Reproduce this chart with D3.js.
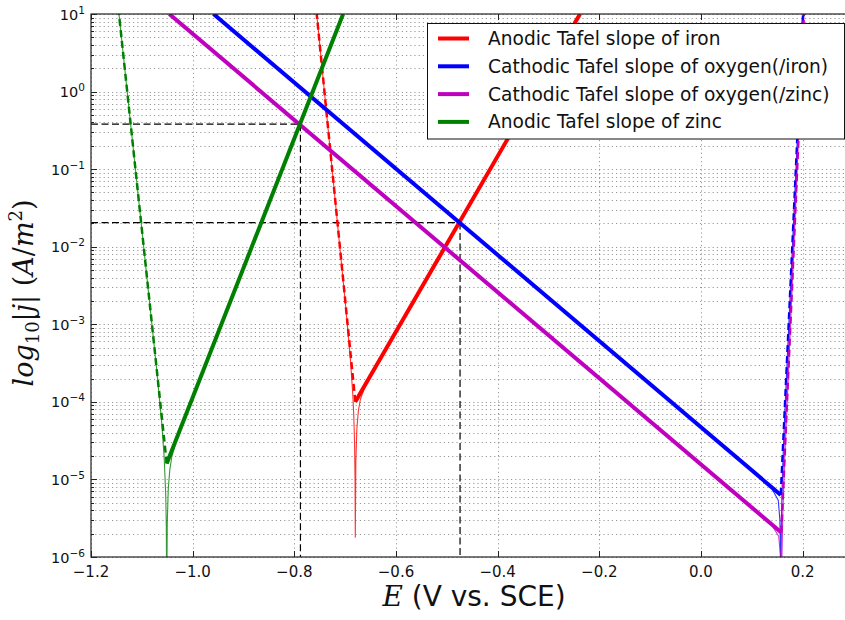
<!DOCTYPE html>
<html>
<head>
<meta charset="utf-8">
<script src="https://cdn.jsdelivr.net/npm/d3@7"></script>
<style>
  html, body { margin: 0; padding: 0; background: #fff; }
  svg { display: block; }
</style>
</head>
<body>
<svg id="chart" width="845" height="620"></svg>
<script>
// Evans diagram: Tafel lines for iron and zinc dissolution against oxygen reduction

// ---- axes ----
const E_DOMAIN = [-1.2, 0.3];
const J_DOMAIN = [1e-6, 10];
const E_TICKS = [-1.2, -1.0, -0.8, -0.6, -0.4, -0.2, 0.0, 0.2];
const J_DECADES = [-6, -5, -4, -3, -2, -1, 0, 1];

// ---- legend ----
const SERIES_LABELS = [
  "Anodic Tafel slope of iron",
  "Cathodic Tafel slope of oxygen(/iron)",
  "Cathodic Tafel slope of oxygen(/zinc)",
  "Anodic Tafel slope of zinc"
];
const SERIES_COLORS = ["#ff0000", "#0000ff", "#bf00bf", "#008000"];

// ---- iron: [E (V), |j| (A/m^2)] ----
const ironTafel = [[-0.680, 1.0e-4], [-0.238, 10]];
const ironBranch = [[-0.680, 1.0e-4], [-0.756, 10]];
const ironNet = [
  [-0.756, 10], [-0.700, 2.0e-3], [-0.690, 3.8e-4], [-0.685, 1.25e-4],
  [-0.683, 6.5e-5], [-0.6815, 2.9e-5], [-0.6805, 9.0e-6], [-0.6801, 1.8e-6],
  [-0.679, 1.7e-5], [-0.677, 4.5e-5], [-0.674, 7.7e-5], [-0.670, 1.08e-4],
  [-0.660, 1.64e-4], [-0.238, 10]
];

// ---- oxygen reduction on iron ----
const o2IronTafel = [[0.157, 6.3e-6], [-0.959, 10]];
const o2IronBranch = [[0.157, 6.3e-6], [0.2008, 10]];
const o2IronNet = [
  [-0.959, 10], [0.137, 8.1e-6], [0.152, 5.4e-6], [0.155, 3.1e-6],
  [0.1562, 1.5e-6], [0.1567, 6.0e-7], [0.1573, 6.6e-7], [0.158, 2.5e-6],
  [0.160, 1.04e-5], [0.163, 3.7e-5], [0.167, 1.5e-4], [0.2008, 10]
];

// ---- oxygen reduction on zinc ----
const o2ZincTafel = [[0.158, 2.07e-6], [-1.046, 10]];
const o2ZincBranch = [[0.158, 2.07e-6], [0.2025, 10]];
const o2ZincNet = [
  [-1.046, 10], [0.138, 2.67e-6], [0.153, 1.84e-6], [0.156, 1.09e-6],
  [0.157, 6.3e-7], [0.159, 8.8e-7], [0.161, 3.85e-6], [0.164, 1.45e-5],
  [0.2025, 10]
];

// ---- zinc ----
const zincTafel = [[-1.051, 1.6e-5], [-0.704, 10]];
const zincBranch = [[-1.051, 1.6e-5], [-1.145, 10]];
const zincNet = [
  [-1.145, 10], [-1.071, 2.7e-4], [-1.061, 5.5e-5], [-1.056, 1.9e-5],
  [-1.053, 6.4e-6], [-1.0518, 2.4e-6], [-1.0512, 4.0e-7], [-1.0508, 4.0e-7],
  [-1.050, 2.7e-6], [-1.048, 7.5e-6], [-1.045, 1.33e-5], [-1.041, 1.96e-5],
  [-1.031, 3.35e-5], [-0.704, 10]
];

// ---- corrosion points (E_corr, j_corr) ----
const corrosionPoints = [[-0.474, 0.0205], [-0.788, 0.38]];

const groups = [
  { net: ironNet, branch: ironBranch, tafel: ironTafel },
  { net: o2IronNet, branch: o2IronBranch, tafel: o2IronTafel },
  { net: o2ZincNet, branch: o2ZincBranch, tafel: o2ZincTafel },
  { net: zincNet, branch: zincBranch, tafel: zincTafel }
];

// ---- layout ----
const plot = { left: 91, top: 14, right: 853.5, bottom: 557 };
const svg = d3.select("#chart");
svg.append("rect").attr("width", 845).attr("height", 620).attr("fill", "#fff");

const x = d3.scaleLinear().domain(E_DOMAIN).range([plot.left, plot.right]);
const y = d3.scaleLog().domain(J_DOMAIN).range([plot.bottom, plot.top]);

svg.append("defs").append("clipPath").attr("id", "plotClip")
  .append("rect")
  .attr("x", plot.left).attr("y", plot.top)
  .attr("width", plot.right - plot.left).attr("height", plot.bottom - plot.top);

// minor / major values on the log axis
const majorJ = J_DECADES.map(d => Math.pow(10, d));
const minorJ = [];
J_DECADES.slice(0, -1).forEach(d => {
  for (let m = 2; m <= 9; m++) minorJ.push(m * Math.pow(10, d));
});

// ---- grid ----
const grid = svg.append("g").attr("stroke", "#000").attr("stroke-opacity", 0.5)
  .attr("stroke-width", 0.8).attr("stroke-dasharray", "1.2,3").attr("fill", "none");
grid.selectAll("line.h").data(majorJ.concat(minorJ)).enter().append("line")
  .attr("x1", plot.left).attr("x2", plot.right)
  .attr("y1", d => Math.round(y(d)) + 0.5).attr("y2", d => Math.round(y(d)) + 0.5);
grid.selectAll("line.v").data(E_TICKS).enter().append("line")
  .attr("y1", plot.top).attr("y2", plot.bottom)
  .attr("x1", d => Math.round(x(d)) + 0.5).attr("x2", d => Math.round(x(d)) + 0.5);

// ---- curves ----
const line = d3.line().x(d => x(d[0])).y(d => y(d[1]));
const curves = svg.append("g").attr("clip-path", "url(#plotClip)").attr("fill", "none");

// guide lines from each corrosion point to the axes
const guides = curves.append("g").attr("stroke", "#000").attr("stroke-width", 1.2)
  .attr("stroke-dasharray", "7,3.5");
corrosionPoints.forEach(p => {
  guides.append("path").attr("d", line([[E_DOMAIN[0], p[1]], p]));
  guides.append("path").attr("d", line([p, [p[0], J_DOMAIN[0]]]));
});

groups.forEach((g, i) => {
  const c = SERIES_COLORS[i];
  const gg = curves.append("g").attr("stroke", c);
  gg.append("path").attr("d", line(g.net)).attr("stroke-width", 1.1)
    .attr("stroke-opacity", 0.8).attr("stroke-linejoin", "round");
  gg.append("path").attr("d", line(g.branch)).attr("stroke-width", 2.5)
    .attr("stroke-dasharray", "7,4");
  gg.append("path").attr("d", line(g.tafel)).attr("stroke-width", 4);
});

// ---- frame ----
svg.append("rect")
  .attr("x", plot.left).attr("y", plot.top)
  .attr("width", plot.right - plot.left).attr("height", plot.bottom - plot.top)
  .attr("fill", "none").attr("stroke", "#222").attr("stroke-width", 1.2);

// ---- ticks (inward, all four sides) ----
const ticks = svg.append("g").attr("stroke", "#222").attr("stroke-width", 1);
E_TICKS.forEach(v => {
  const px = Math.round(x(v)) + 0.5;
  ticks.append("line").attr("x1", px).attr("x2", px).attr("y1", plot.bottom).attr("y2", plot.bottom - 6);
  ticks.append("line").attr("x1", px).attr("x2", px).attr("y1", plot.top).attr("y2", plot.top + 6);
});
majorJ.forEach(v => {
  const py = Math.round(y(v)) + 0.5;
  ticks.append("line").attr("y1", py).attr("y2", py).attr("x1", plot.left).attr("x2", plot.left + 6);
  ticks.append("line").attr("y1", py).attr("y2", py).attr("x1", plot.right).attr("x2", plot.right - 6);
});
minorJ.forEach(v => {
  const py = Math.round(y(v)) + 0.5;
  ticks.append("line").attr("y1", py).attr("y2", py).attr("x1", plot.left).attr("x2", plot.left + 3);
  ticks.append("line").attr("y1", py).attr("y2", py).attr("x1", plot.right).attr("x2", plot.right - 3);
});

// ---- tick labels ----
const fmtE = d => (d < 0 ? "\u2212" : "") + Math.abs(d).toFixed(1);
svg.append("g").selectAll("text").data(E_TICKS).enter().append("text")
  .attr("x", d => x(d)).attr("y", plot.bottom + 20)
  .attr("text-anchor", "middle")
  .attr("font-family", "DejaVu Sans").attr("font-size", 15).attr("fill", "#111")
  .text(fmtE);

const yLabels = svg.append("g").attr("font-family", "DejaVu Sans").attr("fill", "#111");
J_DECADES.forEach(d => {
  const t = yLabels.append("text")
    .attr("x", plot.left - 6).attr("y", y(Math.pow(10, d)) + 5.5)
    .attr("text-anchor", "end").attr("font-size", 14.5);
  t.append("tspan").text("10");
  t.append("tspan").attr("dy", -6).attr("font-size", 10.5)
    .text((d < 0 ? "\u2212" : "") + Math.abs(d));
});

// ---- axis titles ----
const xTitle = svg.append("text")
  .attr("x", 474).attr("y", 606).attr("text-anchor", "middle")
  .attr("font-size", 28).attr("fill", "#111");
xTitle.append("tspan").attr("font-family", "DejaVu Serif").attr("font-style", "italic").text("E");
xTitle.append("tspan").attr("font-family", "DejaVu Sans").text(" (V vs. SCE)");

const yTitle = svg.append("text")
  .attr("transform", "translate(33,293) rotate(-90)")
  .attr("text-anchor", "middle")
  .attr("font-family", "DejaVu Serif").attr("font-size", 27).attr("fill", "#111");
yTitle.append("tspan").attr("font-style", "italic").text("log");
yTitle.append("tspan").attr("dy", 6).attr("font-size", 18).text("10");
yTitle.append("tspan").attr("dy", -6).text("|");
yTitle.append("tspan").attr("font-style", "italic").text("j");
yTitle.append("tspan").text("|\u00a0(");
yTitle.append("tspan").attr("font-style", "italic").text("A");
yTitle.append("tspan").text("/");
yTitle.append("tspan").attr("font-style", "italic").text("m");
yTitle.append("tspan").attr("dy", -11).attr("font-size", 18).text("2");
yTitle.append("tspan").attr("dy", 11).text(")");

// ---- legend ----
const legend = svg.append("g");
legend.append("rect")
  .attr("x", 427.5).attr("y", 23.5).attr("width", 417).attr("height", 115.5)
  .attr("fill", "#fff").attr("stroke", "#111").attr("stroke-width", 1);
SERIES_LABELS.forEach((lab, i) => {
  const ly = 38.5 + i * 27.8;
  legend.append("line").attr("x1", 438).attr("x2", 469).attr("y1", ly).attr("y2", ly)
    .attr("stroke", SERIES_COLORS[i]).attr("stroke-width", 4);
  legend.append("text").attr("x", 488).attr("y", ly + 6.5)
    .attr("font-family", "DejaVu Sans").attr("font-size", 18.6).attr("fill", "#111")
    .text(lab);
});
</script>
</body>
</html>
